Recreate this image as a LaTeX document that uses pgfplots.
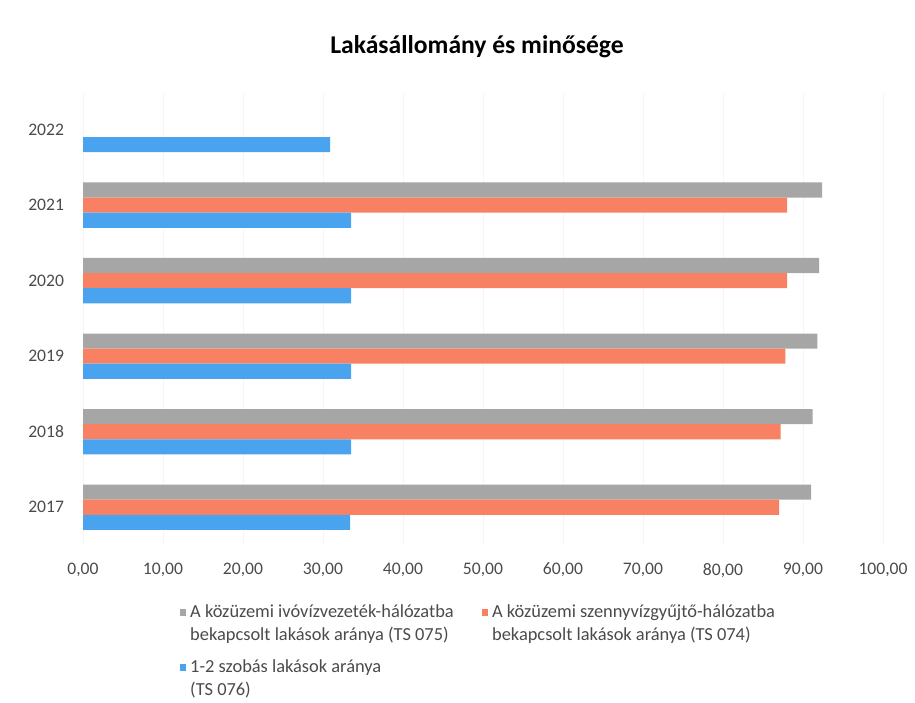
\documentclass[border=0pt]{standalone}
\usepackage{pgfplots}
\pgfplotsset{compat=1.18}
\usepackage{fontspec}
\setmainfont{Carlito}
\definecolor{vizgrey}{RGB}{166,166,166}
\definecolor{csatorna}{RGB}{247,129,98}
\definecolor{szoba}{RGB}{74,163,238}
\definecolor{ticktext}{RGB}{75,75,75}

% px -> pt: 0.5pt per reference pixel, origin at axis lower-left
\begin{document}
\begin{tikzpicture}
\begin{axis}[
    at={(0,0)}, anchor=south west,
    scale only axis,
    width=400pt, height=226.6pt,
    xbar, bar width=0.2,
    xmin=0, xmax=100, xtick distance=10,
    ymin=-0.5, ymax=5.5,
    ytick={0,1,2,3,4,5},
    yticklabels={2017,2018,2019,2020,2021,2022},
    axis line style={draw=none},
    major tick length=0pt,
    xmajorgrids, grid style={black!4},
    scaled x ticks=false,
    /pgf/number format/.cd, fixed, fixed zerofill, precision=2, use comma, assume math mode=true,
    /pgfplots/.cd,
    tick label style={font=\fontsize{8.8}{10}\selectfont, text=ticktext},
    xticklabel style={yshift=-5.5pt},
    yticklabel style={xshift=-6pt},
    legend columns=2,
    legend cell align=left,
    legend style={at={(0.113,-0.113)}, anchor=north west, draw=none,
        font=\fontsize{9.2}{11.6}\selectfont, text=ticktext,
        nodes={align=left},
        row sep=4pt,
        /tikz/every even column/.append style={column sep=12pt}},
    legend image code/.code={\draw[#1,draw=none] (0pt,4.2pt) rectangle (3.2pt,7.4pt);},
]
\addplot[fill=vizgrey, draw=none, bar shift=0.2] coordinates {
    (91.0,0) (91.2,1) (91.8,2) (92.0,3) (92.4,4)
};
\addplot[fill=csatorna, draw=none, bar shift=0] coordinates {
    (87.0,0) (87.2,1) (87.8,2) (88.0,3) (88.0,4)
};
\addplot[fill=szoba, draw=none, bar shift=-0.2] coordinates {
    (33.4,0) (33.5,1) (33.5,2) (33.5,3) (33.5,4) (30.9,5)
};
\legend{A közüzemi ivóvízvezeték-hálózatba\\bekapcsolt lakások aránya (TS 075),
        A közüzemi szennyvízgyűjtő-hálózatba\\bekapcsolt lakások aránya (TS 074),
        1-2 szobás lakások aránya\\(TS 076)}
\end{axis}
\node[font=\fontsize{12.8}{15}\selectfont\bfseries] at (197pt,249pt) {Lakásállomány és minősége};
\pgfresetboundingbox
\path[use as bounding box] (-41.5pt,-78.5pt) rectangle (416pt,272.5pt);
\end{tikzpicture}
\end{document}
